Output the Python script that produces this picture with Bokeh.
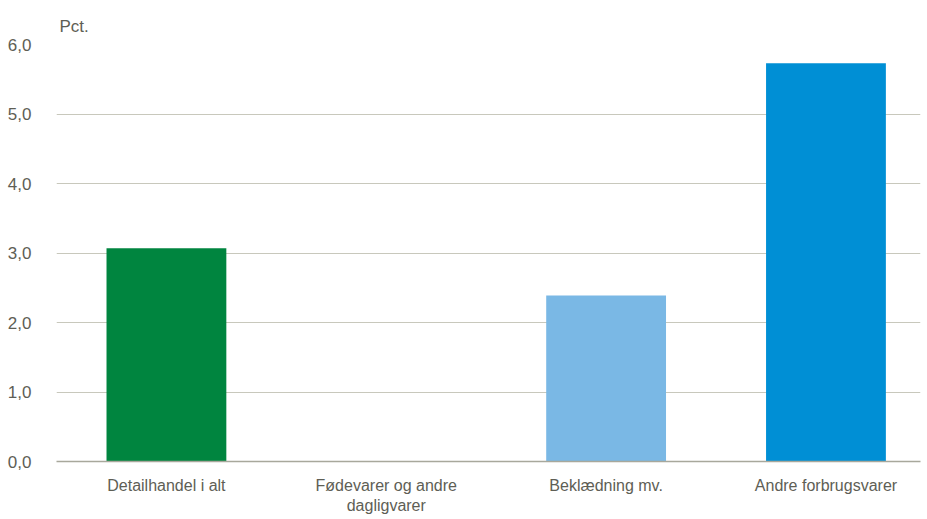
from bokeh.plotting import figure
from bokeh.models import Range1d, FixedTicker, ColumnDataSource
from bokeh.embed import file_html
from bokeh.resources import INLINE

categories = ["Detailhandel i alt", "Fødevarer og andre\ndagligvarer", "Beklædning mv.", "Andre forbrugsvarer"]
values = [3.07, 0.0, 2.39, 5.73]
colors = ["#00853F", "#FFFFFF", "#7AB8E5", "#008FD5"]
y_ticks = [0, 1, 2, 3, 4, 5, 6]
y_tick_labels = ["0,0", "1,0", "2,0", "3,0", "4,0", "5,0", "6,0"]
unit_label = "Pct."

FONT = "Liberation Sans Narrow, Arial Narrow, Liberation Sans, sans-serif"
TEXT = "#5E5E55"

xs = [i + 0.5 for i in range(len(categories))]
src = ColumnDataSource(dict(x=xs, top=values, color=colors))

p = figure(frame_width=864, frame_height=417, output_backend="svg", toolbar_location=None,
           x_range=Range1d(0, 3.93), y_range=Range1d(0, 6), title=unit_label,
           min_border_left=56, min_border_right=1, min_border_top=44, min_border_bottom=6)
p.outline_line_color = None
p.background_fill_color = "white"

p.title.align = "left"
p.title.text_font = FONT
p.title.text_font_size = "17px"
p.title.text_font_style = "normal"
p.title.text_color = TEXT
p.title.offset = 3
p.title.standoff = 18

p.vbar(x="x", top="top", width=0.545, color="color", source=src, line_color=None)

p.xaxis.ticker = FixedTicker(ticks=xs)
p.xaxis.major_label_overrides = {x: c for x, c in zip(xs, categories)}
p.yaxis.ticker = FixedTicker(ticks=y_ticks)
p.yaxis.major_label_overrides = {t: l for t, l in zip(y_ticks, y_tick_labels)}

for ax in (p.xaxis, p.yaxis):
    ax.major_tick_line_color = None
    ax.minor_tick_line_color = None
    ax.major_label_text_font = FONT
    ax.major_label_text_color = TEXT
p.yaxis.major_label_text_font_size = "17px"
p.xaxis.major_label_text_font_size = "16px"
p.yaxis.axis_line_color = None
p.xaxis.axis_line_color = "#A8A89C"
p.xaxis.axis_line_width = 1.5
p.xaxis.major_label_standoff = 9
p.yaxis.major_label_standoff = 19

p.xgrid.grid_line_color = None
p.ygrid.grid_line_color = "#C8C8BC"
p.ygrid.grid_line_width = 1

open("out.html", "w").write(file_html(p, INLINE))
